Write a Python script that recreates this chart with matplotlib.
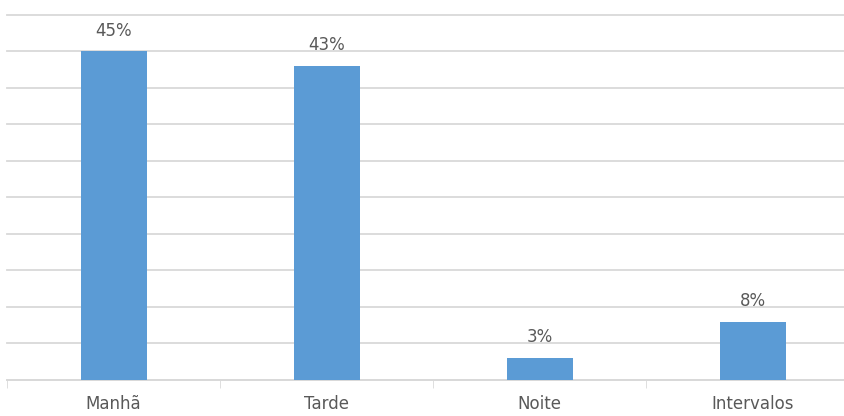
import matplotlib
matplotlib.use('Agg')
import matplotlib.pyplot as plt

categories = ['Manhã', 'Tarde', 'Noite', 'Intervalos']
values = [45, 43, 3, 8]
labels = ['45%', '43%', '3%', '8%']

fig = plt.figure(figsize=(8.44, 4.16), dpi=100)
ax = fig.add_axes([0.0083, 0.0865, 1.01, 0.878])

x = range(len(categories))
ax.bar(x, values, width=0.31, color='#5B9BD5', zorder=3)
for i, v in enumerate(values):
    ax.text(i, v + 1.6, labels[i], ha='center', va='bottom', fontsize=12, color='#595959')

ax.set_xlim(-0.5, 3.5)
ax.set_ylim(0, 50)
ax.set_yticks(range(0, 51, 5))
ax.yaxis.grid(True, color='#d9d9d9', linewidth=1.3, zorder=0)
for gl in ax.get_ygridlines():
    gl.set_clip_on(False)
ax.tick_params(axis='y', left=False, labelleft=False)
ax.set_xticks(x)
ax.set_xticklabels(categories, fontsize=12, color='#595959')
ax.set_xticks([-0.5, 0.5, 1.5, 2.5, 3.5], minor=True)
ax.tick_params(axis='x', which='major', length=0, pad=11)
ax.tick_params(axis='x', which='minor', length=6, color='#d9d9d9')
for s in ['top', 'right', 'left']:
    ax.spines[s].set_visible(False)
ax.spines['bottom'].set_color('#d9d9d9')
ax.spines['bottom'].set_linewidth(1.3)

plt.savefig('out.png', dpi=100)
